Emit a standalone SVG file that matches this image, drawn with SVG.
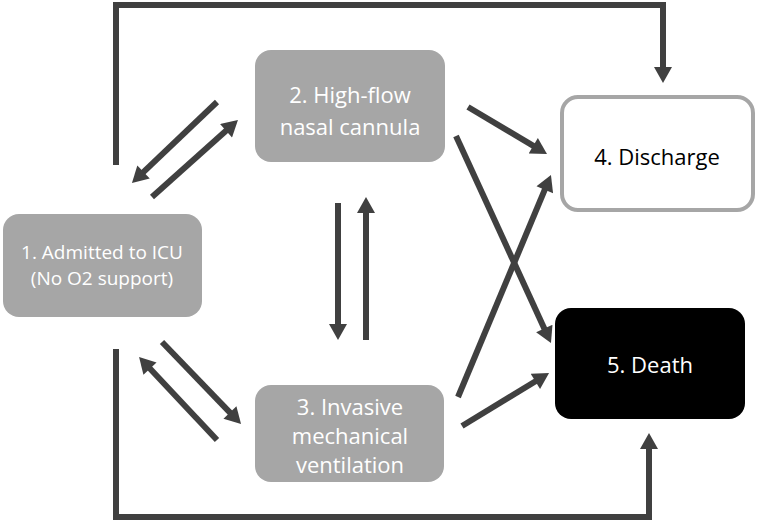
<svg xmlns="http://www.w3.org/2000/svg" width="758" height="523" viewBox="0 0 758 523">
<style>
.box{fill:#a6a6a6}
.t{font-family:"Open Sans","Liberation Sans",sans-serif;font-size:22px;fill:#ffffff;text-anchor:middle}
.s{font-size:19px}
.c{fill:none;stroke:#404040;stroke-width:6}
</style>
<defs>
<marker id="ah" markerUnits="userSpaceOnUse" markerWidth="18" markerHeight="18" viewBox="0 0 16 18" refX="6" refY="9" orient="auto">
<path d="M0,0 L16,9 L0,18 z" fill="#404040"/>
</marker>
</defs>
<rect width="758" height="523" fill="#ffffff"/>
<g id="connectors">
<polyline class="c" points="116,165 116,5 663,5 663,73" marker-end="url(#ah)"/>
<polyline class="c" points="116,349 116,517 649,517 649,443" marker-end="url(#ah)"/>
<line class="c" x1="217" y1="102" x2="139.2" y2="176.1" marker-end="url(#ah)"/>
<line class="c" x1="152" y1="197" x2="230.5" y2="126.7" marker-end="url(#ah)"/>
<line class="c" x1="162" y1="342" x2="234.1" y2="416.8" marker-end="url(#ah)"/>
<line class="c" x1="217" y1="440" x2="145.9" y2="364.3" marker-end="url(#ah)"/>
<line class="c" x1="338" y1="203" x2="338" y2="330" marker-end="url(#ah)"/>
<line class="c" x1="366" y1="340" x2="366" y2="207" marker-end="url(#ah)"/>
<line class="c" x1="468" y1="107" x2="538.4" y2="148.9" marker-end="url(#ah)"/>
<line class="c" x1="456" y1="136" x2="546.8" y2="333.9" marker-end="url(#ah)"/>
<line class="c" x1="458" y1="397" x2="547.1" y2="184.2" marker-end="url(#ah)"/>
<line class="c" x1="462" y1="426" x2="540.5" y2="378.2" marker-end="url(#ah)"/>
</g>
<g id="n1">
<rect class="box" x="3" y="214" width="199" height="103" rx="16"/>
<text class="t s" x="102" y="259">1. Admitted to ICU</text>
<text class="t s" x="102" y="285">(No O2 support)</text>
</g>
<g id="n2">
<rect class="box" x="255" y="50" width="190" height="112" rx="16"/>
<text class="t" x="350" y="103">2. High-flow</text>
<text class="t" x="350" y="135">nasal cannula</text>
</g>
<g id="n3">
<rect class="box" x="255" y="385" width="189" height="97" rx="16"/>
<text class="t" x="350" y="415">3. Invasive</text>
<text class="t" x="350" y="444">mechanical</text>
<text class="t" x="350" y="473">ventilation</text>
</g>
<g id="n4">
<rect x="562" y="97" width="191" height="113" rx="16" fill="#ffffff" stroke="#a6a6a6" stroke-width="4"/>
<text class="t" x="657" y="165" style="fill:#000000">4. Discharge</text>
</g>
<g id="n5">
<rect x="555" y="308" width="190" height="111" rx="16" fill="#000000"/>
<text class="t" x="650" y="373">5. Death</text>
</g>
</svg>
